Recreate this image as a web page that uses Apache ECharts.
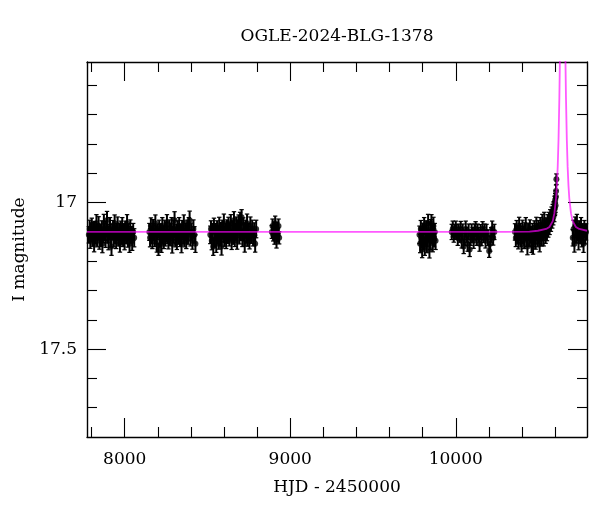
<!DOCTYPE html>
<html><head><meta charset="utf-8">
<script src="https://cdn.jsdelivr.net/npm/echarts@6/dist/echarts.min.js"></script>
<style>html,body{margin:0;padding:0;background:#fff}#c{width:600px;height:512px}</style>
</head><body><div id="c"></div>
<script>
// ---- chart data ----
const titleText = 'OGLE-2024-BLG-1378';
const xName = 'HJD - 2450000';
const yName = 'I magnitude';
const xMin = 7772, xMax = 10793;
const yMin = 16.52, yMax = 17.8;
const xMajorTicks = [8000, 9000, 10000];
const xMinorTicks = [7800, 8200, 8400, 8600, 8800, 9200, 9400, 9600, 9800, 10200, 10400, 10600];
const yMajorTicks = [17, 17.5];
const yMinorTicks = [16.6, 16.7, 16.8, 16.9, 17.1, 17.2, 17.3, 17.4, 17.6, 17.7];

// observations: [HJD-2450000, I mag, error]
const season1 = [[7783,17.11,.028],[7788,17.09,.030],[7792,17.13,.026],[7797,17.10,.031],[7801,17.08,.027],[7806,17.12,.029],[7810,17.10,.033],[7815,17.14,.028],[7819,17.09,.026],[7824,17.11,.030],[7829,17.07,.029],[7833,17.12,.031],[7838,17.10,.027],[7842,17.08,.032],[7847,17.13,.029],[7851,17.10,.026],[7856,17.12,.030],[7861,17.09,.028],[7865,17.14,.031],[7870,17.11,.027],[7874,17.07,.030],[7879,17.10,.029],[7884,17.12,.033],[7888,17.09,.027],[7893,17.06,.030],[7897,17.11,.028],[7902,17.13,.031],[7907,17.10,.026],[7911,17.08,.029],[7916,17.12,.032],[7920,17.15,.030],[7925,17.10,.027],[7930,17.09,.029],[7934,17.12,.031],[7939,17.07,.028],[7943,17.11,.030],[7948,17.13,.027],[7953,17.10,.029],[7957,17.08,.031],[7962,17.12,.028],[7967,17.10,.030],[7971,17.14,.029],[7976,17.09,.027],[7981,17.11,.032],[7985,17.08,.029],[7990,17.12,.030],[7995,17.10,.028],[7999,17.13,.031],[8004,17.09,.027],[8009,17.11,.030],[8014,17.07,.029],[8019,17.12,.032],[8024,17.10,.028],[8029,17.14,.030],[8034,17.09,.031],[8039,17.11,.028],[8045,17.13,.033],[8051,17.10,.029],[8057,17.12,.031]];
const season2 = [[8149,17.10,.029],[8153,17.12,.031],[8158,17.08,.028],[8162,17.11,.030],[8167,17.13,.027],[8171,17.09,.032],[8176,17.10,.029],[8180,17.12,.030],[8185,17.07,.028],[8190,17.11,.031],[8194,17.14,.029],[8199,17.10,.027],[8204,17.16,.020],[8208,17.09,.030],[8213,17.12,.032],[8217,17.10,.028],[8222,17.14,.030],[8227,17.08,.029],[8231,17.11,.031],[8236,17.13,.027],[8241,17.09,.030],[8245,17.12,.028],[8250,17.10,.032],[8255,17.07,.029],[8259,17.11,.030],[8264,17.13,.028],[8269,17.09,.031],[8273,17.12,.027],[8278,17.10,.030],[8283,17.08,.029],[8287,17.14,.032],[8292,17.11,.028],[8297,17.09,.030],[8301,17.06,.029],[8306,17.12,.031],[8311,17.10,.027],[8315,17.13,.030],[8320,17.09,.028],[8325,17.11,.032],[8329,17.08,.029],[8334,17.12,.030],[8339,17.10,.027],[8343,17.14,.031],[8348,17.09,.029],[8353,17.11,.030],[8357,17.07,.028],[8362,17.12,.031],[8367,17.10,.029],[8372,17.13,.027],[8377,17.09,.030],[8382,17.11,.032],[8387,17.08,.029],[8392,17.06,.031],[8397,17.12,.028],[8403,17.10,.030],[8409,17.13,.029],[8415,17.09,.031],[8421,17.11,.028],[8427,17.14,.030]];
const season3 = [[8517,17.11,.030],[8521,17.09,.028],[8526,17.13,.031],[8530,17.10,.029],[8535,17.15,.030],[8539,17.08,.027],[8544,17.12,.032],[8548,17.10,.029],[8553,17.14,.030],[8558,17.09,.028],[8562,17.11,.031],[8567,17.13,.029],[8571,17.08,.030],[8576,17.12,.028],[8581,17.10,.032],[8585,17.15,.029],[8590,17.09,.030],[8595,17.11,.028],[8599,17.07,.031],[8604,17.12,.029],[8609,17.10,.030],[8613,17.13,.027],[8618,17.09,.031],[8623,17.11,.029],[8627,17.08,.030],[8632,17.12,.028],[8637,17.10,.031],[8641,17.07,.029],[8646,17.13,.030],[8651,17.09,.028],[8655,17.11,.032],[8660,17.06,.029],[8665,17.12,.030],[8669,17.10,.028],[8674,17.08,.031],[8679,17.13,.029],[8683,17.09,.030],[8688,17.07,.028],[8693,17.11,.031],[8697,17.06,.027],[8702,17.10,.029],[8706,17.05,.026],[8711,17.12,.030],[8716,17.08,.028],[8720,17.10,.031],[8725,17.14,.029],[8730,17.09,.030],[8734,17.11,.028],[8739,17.07,.031],[8744,17.12,.029],[8749,17.10,.030],[8754,17.13,.028],[8759,17.08,.031],[8764,17.11,.029],[8770,17.09,.030],[8776,17.12,.028],[8782,17.10,.031],[8788,17.14,.029],[8794,17.09,.030]];
const season4 = [[8889,17.10,.022],[8893,17.08,.024],[8897,17.11,.021],[8901,17.09,.023],[8905,17.12,.022],[8909,17.07,.024],[8913,17.10,.021],[8917,17.13,.025],[8921,17.09,.022],[8925,17.11,.023],[8929,17.08,.024],[8933,17.12,.021]];
const season5 = [[9781,17.11,.030],[9785,17.14,.031],[9789,17.09,.029],[9793,17.12,.032],[9797,17.16,.028],[9801,17.10,.030],[9805,17.13,.031],[9809,17.08,.029],[9813,17.15,.030],[9817,17.11,.032],[9821,17.09,.028],[9825,17.14,.031],[9829,17.12,.029],[9833,17.07,.030],[9837,17.10,.031],[9841,17.16,.029],[9845,17.13,.030],[9849,17.09,.032],[9853,17.07,.029],[9857,17.11,.031],[9861,17.14,.028],[9865,17.08,.030],[9869,17.12,.031],[9873,17.10,.029],[9878,17.13,.030]];
const season6 = [[9976,17.10,.026],[9982,17.09,.027],[9988,17.11,.025],[9994,17.10,.026],[10000,17.09,.027],[10006,17.10,.025],[10012,17.12,.026],[10018,17.10,.027],[10024,17.11,.025],[10030,17.09,.026],[10036,17.13,.025],[10042,17.10,.027],[10048,17.15,.024],[10054,17.12,.026],[10060,17.09,.027],[10066,17.11,.025],[10072,17.14,.026],[10078,17.10,.027],[10084,17.16,.024],[10090,17.12,.026],[10096,17.10,.027],[10102,17.11,.025],[10108,17.13,.026],[10114,17.10,.027],[10120,17.09,.025],[10126,17.12,.026],[10132,17.10,.027],[10138,17.11,.025],[10144,17.14,.026],[10150,17.10,.025],[10156,17.12,.027],[10162,17.09,.025],[10168,17.11,.026],[10174,17.10,.027],[10180,17.13,.025],[10186,17.10,.026],[10194,17.12,.027],[10202,17.165,.022],[10208,17.14,.026],[10214,17.11,.025],[10220,17.09,.027],[10226,17.12,.025],[10233,17.10,.026]];
const season7 = [[10358,17.10,.028],[10363,17.12,.030],[10368,17.09,.029],[10373,17.11,.031],[10378,17.13,.028],[10383,17.08,.030],[10388,17.10,.029],[10393,17.12,.031],[10398,17.14,.028],[10403,17.09,.030],[10408,17.11,.029],[10413,17.13,.027],[10418,17.10,.031],[10423,17.08,.029],[10428,17.12,.030],[10433,17.15,.028],[10438,17.10,.030],[10443,17.12,.029],[10448,17.09,.031],[10453,17.11,.028],[10458,17.14,.030],[10463,17.10,.029],[10467,17.15,.026],[10471,17.12,.030],[10475,17.09,.028],[10479,17.11,.031],[10483,17.13,.029],[10487,17.08,.030],[10491,17.10,.028],[10495,17.12,.031],[10499,17.09,.029],[10503,17.11,.030],[10507,17.14,.028],[10511,17.08,.029],[10515,17.10,.031],[10519,17.12,.028],[10523,17.07,.030],[10527,17.10,.029],[10531,17.12,.028],[10535,17.06,.027],[10539,17.09,.030],[10543,17.11,.029],[10547,17.08,.028],[10551,17.10,.030],[10555,17.07,.029],[10559,17.09,.028],[10563,17.06,.027],[10567,17.08,.029],[10571,17.05,.026],[10575,17.07,.028],[10579,17.04,.025],[10583,17.06,.027],[10586,17.03,.024],[10589,17.05,.026],[10592,17.02,.023],[10595,17.04,.025],[10597,17.00,.022],[10599,17.02,.024],[10601,16.99,.021],[10603,17.01,.023],[10605,16.98,.021],[10606,16.96,.020],[10608,16.92,.018]];
const season8 = [[10707,17.12,.028],[10712,17.09,.030],[10717,17.14,.029],[10722,17.08,.031],[10727,17.11,.028],[10732,17.07,.030],[10737,17.10,.029],[10742,17.13,.031],[10747,17.09,.028],[10752,17.11,.030],[10757,17.08,.029],[10762,17.12,.031],[10767,17.10,.028],[10772,17.14,.030],[10777,17.09,.029],[10782,17.11,.031],[10787,17.10,.028]];

// microlensing model curve: [HJD-2450000, I mag]
const modelCurve = [[7772,17.100],[10300,17.0995],[10446,17.099],[10496,17.096],[10546,17.090],[10566,17.083],[10586,17.063],[10596,17.036],[10606,16.985],[10611,16.941],[10616,16.878],[10621,16.784],[10626,16.642],[10629,16.523],[10631,16.424],[10636,16.07],[10641,15.45],[10646,14.60],[10651,15.45],[10656,16.07],[10661,16.424],[10663,16.523],[10666,16.642],[10671,16.784],[10676,16.878],[10681,16.941],[10686,16.985],[10696,17.036],[10706,17.063],[10726,17.083],[10746,17.090],[10793,17.096]];

const observations = [].concat(season1, season2, season3, season4, season5, season6, season7, season8);

// ---- styling ----
const FONT = 'DejaVu Serif';
const txt = {color:'#000', fontFamily:FONT, fontSize:17};
const lineC = '#000';
const plainNum = v => String(v);

function xAxisDef(pos, ticks, len, labels) {
  return {
    type:'value', min:xMin, max:xMax, position:pos,
    axisLine:{show:len>12, onZero:false, lineStyle:{color:lineC, width:1.4}},
    axisTick:{show:true, inside:true, length:len, customValues:ticks, lineStyle:{color:lineC, width:1.1}},
    axisLabel: labels ? Object.assign({show:true, customValues:ticks, margin:14, formatter:plainNum}, txt) : {show:false},
    splitLine:{show:false}, minorTick:{show:false},
    name: labels ? xName : '', nameLocation:'middle', nameGap:42, nameTextStyle:txt
  };
}
function yAxisDef(pos, ticks, len, labels) {
  return {
    type:'value', min:yMin, max:yMax, inverse:true, position:pos,
    axisLine:{show:len>12, onZero:false, lineStyle:{color:lineC, width:1.4}},
    axisTick:{show:true, inside:true, length:len, customValues:ticks, lineStyle:{color:lineC, width:1.1}},
    axisLabel: labels ? Object.assign({show:true, customValues:ticks, margin:10, formatter:plainNum}, txt) : {show:false},
    splitLine:{show:false}, minorTick:{show:false},
    name: labels ? yName : '', nameLocation:'middle', nameGap:44, nameRotate:90, nameTextStyle:txt
  };
}

const chart = echarts.init(document.getElementById('c'), null, {renderer:'canvas'});
chart.setOption({
  animation:false,
  backgroundColor:'#fff',
  title:{text:titleText, left:337, top:28, textAlign:'center', padding:0,
         textStyle:{color:'#000', fontFamily:FONT, fontSize:17, fontWeight:'normal'}},
  grid:{left:87, right:13, top:62, bottom:75, containLabel:false},
  xAxis:[xAxisDef('bottom', xMajorTicks, 19, true), xAxisDef('bottom', xMinorTicks, 10, false),
         xAxisDef('top', xMajorTicks, 19, false), xAxisDef('top', xMinorTicks, 10, false)],
  yAxis:[yAxisDef('left', yMajorTicks, 19, true), yAxisDef('left', yMinorTicks, 10, false),
         yAxisDef('right', yMajorTicks, 19, false), yAxisDef('right', yMinorTicks, 10, false)],
  series:[
    {
      type:'custom', xAxisIndex:0, yAxisIndex:0, data:observations, encode:{x:0, y:1}, z:2,
      renderItem:function(params, api){
        const t = api.value(0), m = api.value(1), e = api.value(2);
        const a = api.coord([t, m - e]), b = api.coord([t, m + e]);
        const w = 2.2;
        const st = {stroke:'#000', lineWidth:2};
        const cs = {stroke:'#000', lineWidth:1.2};
        return {type:'group', children:[
          {type:'line', shape:{x1:a[0], y1:a[1], x2:b[0], y2:b[1]}, style:st},
          {type:'line', shape:{x1:a[0]-w, y1:a[1], x2:a[0]+w, y2:a[1]}, style:cs},
          {type:'line', shape:{x1:b[0]-w, y1:b[1], x2:b[0]+w, y2:b[1]}, style:cs}
        ]};
      }
    },
    {
      type:'scatter', xAxisIndex:0, yAxisIndex:0, data:observations.map(d=>[d[0], d[1]]),
      symbol:'circle', symbolSize:6, itemStyle:{color:'#000'}, z:3
    },
    {
      type:'line', xAxisIndex:0, yAxisIndex:0, data:modelCurve, showSymbol:false, symbol:'none',
      clip:true, lineStyle:{color:'rgba(255,0,255,0.65)', width:1.8}, z:4
    }
  ]
});
</script></body></html>
